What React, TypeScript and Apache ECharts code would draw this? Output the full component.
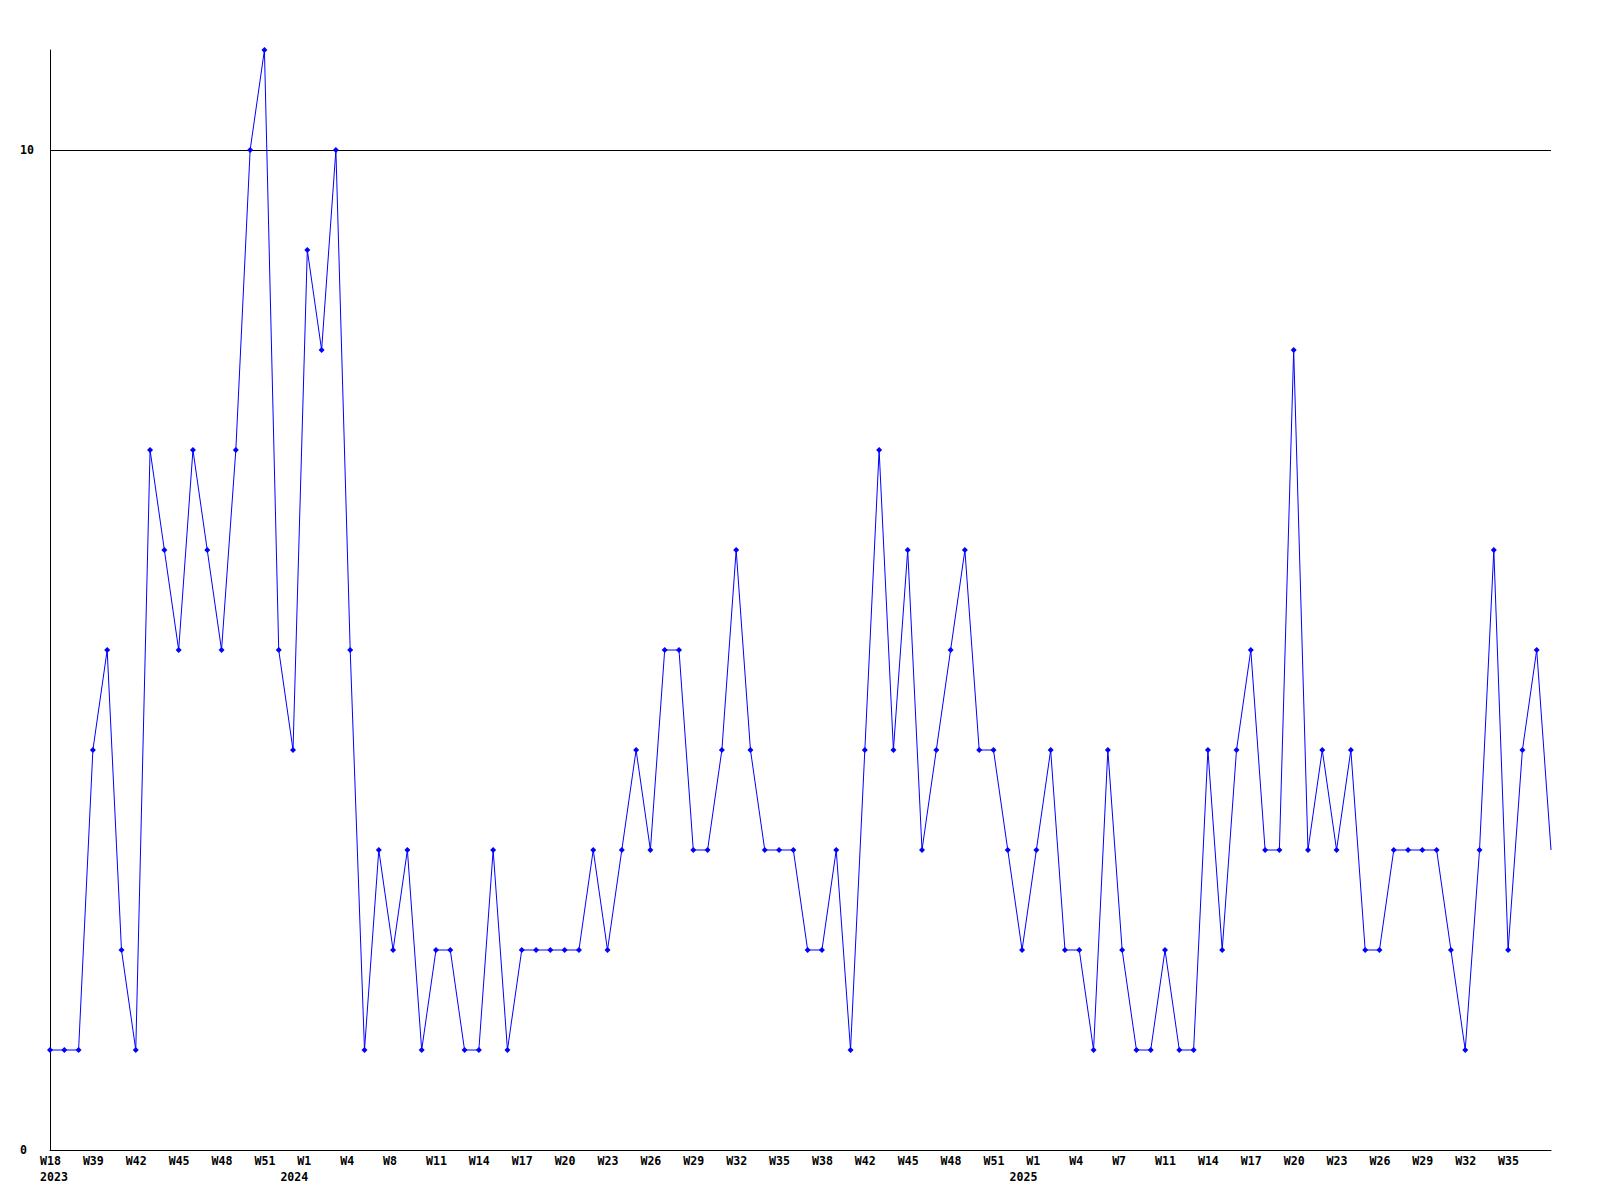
import React, { useEffect, useRef } from "react";
import * as echarts from "echarts";

const categories: string[] = [
  "2023 W18", "2023 W37", "2023 W38", "2023 W39", "2023 W40", "2023 W41", "2023 W42", "2023 W43", "2023 W44", "2023 W45",
  "2023 W46", "2023 W47", "2023 W48", "2023 W49", "2023 W50", "2023 W51", "2023 W52", "2023 W53",
  "2024 W1", "2024 W2", "2024 W3", "2024 W4", "2024 W6", "2024 W7", "2024 W8", "2024 W9", "2024 W10", "2024 W11",
  "2024 W12", "2024 W13", "2024 W14", "2024 W15", "2024 W16", "2024 W17", "2024 W18", "2024 W19", "2024 W20", "2024 W21",
  "2024 W22", "2024 W23", "2024 W24", "2024 W25", "2024 W26", "2024 W27", "2024 W28", "2024 W29", "2024 W30", "2024 W31",
  "2024 W32", "2024 W33", "2024 W34", "2024 W35", "2024 W36", "2024 W37", "2024 W38", "2024 W40", "2024 W41", "2024 W42",
  "2024 W43", "2024 W44", "2024 W45", "2024 W46", "2024 W47", "2024 W48", "2024 W49", "2024 W50", "2024 W51", "2024 W52",
  "2024 W53",
  "2025 W1", "2025 W2", "2025 W3", "2025 W4", "2025 W5", "2025 W6", "2025 W7", "2025 W9", "2025 W10", "2025 W11",
  "2025 W12", "2025 W13", "2025 W14", "2025 W15", "2025 W16", "2025 W17", "2025 W18", "2025 W19", "2025 W20", "2025 W21",
  "2025 W22", "2025 W23", "2025 W24", "2025 W25", "2025 W26", "2025 W27", "2025 W28", "2025 W29", "2025 W30", "2025 W31",
  "2025 W32", "2025 W33", "2025 W34", "2025 W35", "2025 W36", "2025 W37", "2025 W38",
];

const values: number[] = [
  1, 1, 1, 4, 5, 2, 1, 7, 6, 5,
  7, 6, 5, 7, 10, 11, 5, 4, 9, 8,
  10, 5, 1, 3, 2, 3, 1, 2, 2, 1,
  1, 3, 1, 2, 2, 2, 2, 2, 3, 2,
  3, 4, 3, 5, 5, 3, 3, 4, 6, 4,
  3, 3, 3, 2, 2, 3, 1, 4, 7, 4,
  6, 3, 4, 5, 6, 4, 4, 3, 2, 3,
  4, 2, 2, 1, 4, 2, 1, 1, 2, 1,
  1, 4, 2, 4, 5, 3, 3, 8, 3, 4,
  3, 4, 2, 2, 3, 3, 3, 3, 2, 1,
  3, 6, 2, 4, 5, 3,
];

const yMin = 0;
const yMax = 11;
const yInterval = 10;
const labelEvery = 3;

const FONT = "'DejaVu Sans Mono', 'Liberation Mono', monospace";
const LINE_COLOR = "#0000ff";

export default function App() {
  const ref = useRef<HTMLDivElement>(null);

  useEffect(() => {
    if (!ref.current) return;
    const chart = echarts.init(ref.current, null, { renderer: "svg" });
    const baseText = {
      fontFamily: FONT,
      fontSize: 11.6,
      fontWeight: "bold" as const,
      color: "#000",
      lineHeight: 16,
    };
    chart.setOption({
      animation: false,
      backgroundColor: "#fff",
      grid: { left: 50, right: 49, top: 50, bottom: 50, containLabel: false },
      xAxis: {
        type: "category",
        data: categories,
        boundaryGap: false,
        axisLine: { show: true, lineStyle: { color: "#000", width: 1 } },
        axisTick: { show: false },
        splitLine: { show: false },
        axisLabel: {
          ...baseText,
          margin: 3,
          width: 20,
          overflow: "none",
          align: "center",
          verticalAlign: "top",
          interval: (idx: number) => idx % labelEvery === 0 && idx !== categories.length - 1,
          formatter: (value: string, index: number) => {
            const [yr, wk] = value.split(" ");
            const prevYr = index > 0 ? categories[index - 1].split(" ")[0] : null;
            if (index === 0) return `{w|${wk}}\n{y0|${yr}}`;
            if (yr !== prevYr) return `{w|${wk}}\n{y1|${yr}}`;
            return `{w|${wk}}`;
          },
          rich: {
            w: { ...baseText, align: "left" },
            y0: { ...baseText, align: "left" },
            y1: { ...baseText, align: "right", padding: [0, 9, 0, 0] },
          },
        },
      },
      yAxis: {
        type: "value",
        min: yMin,
        max: yMax,
        interval: yInterval,
        axisLine: { show: true, lineStyle: { color: "#000", width: 1 } },
        axisTick: { show: false },
        splitLine: {
          show: true,
          showMinLine: false,
          showMaxLine: false,
          lineStyle: { color: "#000", width: 1 },
        },
        axisLabel: {
          ...baseText,
          align: "left",
          margin: 30,
          showMaxLabel: false,
        },
      },
      series: [
        {
          type: "line",
          data: values,
          showAllSymbol: true,
          symbol: (_v: any, p: any) => (p.dataIndex === values.length - 1 ? "none" : "diamond"),
          symbolSize: 6,
          lineStyle: { color: LINE_COLOR, width: 1 },
          itemStyle: { color: LINE_COLOR },
          emphasis: { disabled: true },
        },
      ],
    });
    return () => chart.dispose();
  }, []);

  return (
    <div
      ref={ref}
      style={{ position: "absolute", left: 0, top: 0, width: 1600, height: 1200, background: "#fff" }}
    />
  );
}
